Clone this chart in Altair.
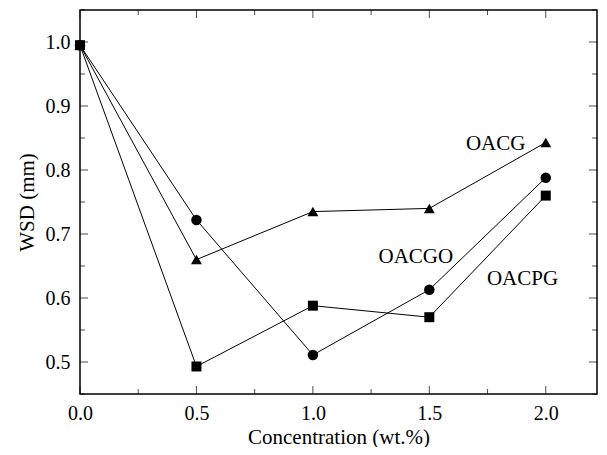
import altair as alt
import pandas as pd

conc = [0.0, 0.5, 1.0, 1.5, 2.0]
oacg = [0.995, 0.660, 0.735, 0.740, 0.843]
oacgo = [0.995, 0.722, 0.511, 0.613, 0.788]
oacpg = [0.995, 0.493, 0.588, 0.570, 0.760]

series_names = ["OACG", "OACGO", "OACPG"]
series_shapes = ["triangle-up", "circle", "square"]
series_sizes = [120, 100, 64]

label_text = ["OACG", "OACGO", "OACPG"]
label_x = [1.785, 1.442, 1.90]
label_y = [0.840, 0.664, 0.629]

x_major = [0.0, 0.5, 1.0, 1.5, 2.0]
x_minor = [0.25, 0.75, 1.25, 1.75]
y_major = [0.5, 0.6, 0.7, 0.8, 0.9, 1.0]
y_minor = [0.45, 0.55, 0.65, 0.75, 0.85, 0.95, 1.05]

W, H = 517, 384
XMAX = 2.22
FONT = "Liberation Serif"
LFS = 20
TFS = 21

rows = []
for name, vals in zip(series_names, [oacg, oacgo, oacpg]):
    for c, v in zip(conc, vals):
        rows.append({"series": name, "conc": c, "wsd": v})
df = pd.DataFrame(rows)

xs = alt.Scale(domain=[0, XMAX], nice=False, zero=False)
ys = alt.Scale(domain=[0.45, 1.05], nice=False, zero=False)

xax = alt.Axis(values=x_major, format=".1f", ticks=False, grid=False, labelFlush=False,
               labelPadding=9, titlePadding=3, labelFontSize=LFS, titleFontSize=TFS,
               labelFont=FONT, titleFont=FONT, labelColor="black", titleColor="black",
               titleFontWeight="normal", domain=False)
yax = alt.Axis(values=y_major, format=".1f", ticks=False, grid=False, labelFlush=False,
               labelPadding=10, titlePadding=8, labelFontSize=LFS, titleFontSize=TFS,
               labelFont=FONT, titleFont=FONT, labelColor="black", titleColor="black",
               titleFontWeight="normal", domain=False)

base = alt.Chart(df)

lines = base.mark_line(color="black", strokeWidth=1).encode(
    x=alt.X("conc:Q", scale=xs, axis=xax, title="Concentration (wt.%)"),
    y=alt.Y("wsd:Q", scale=ys, axis=yax, title="WSD (mm)"),
    detail="series:N",
    order="conc:Q",
)

points = base.mark_point(filled=True, opacity=1, color="black").encode(
    x=alt.X("conc:Q", scale=xs, axis=xax, title="Concentration (wt.%)"),
    y=alt.Y("wsd:Q", scale=ys, axis=yax, title="WSD (mm)"),
    shape=alt.Shape("series:N", scale=alt.Scale(domain=series_names, range=series_shapes), legend=None),
    size=alt.Size("series:N", scale=alt.Scale(domain=series_names, range=series_sizes), legend=None),
)

labels = alt.Chart(pd.DataFrame({"t": label_text, "x": label_x, "y": label_y})).mark_text(
    font=FONT, fontSize=TFS, color="black", align="center", baseline="middle"
).encode(x=alt.X("x:Q", scale=xs), y=alt.Y("y:Q", scale=ys), text="t:N")


def yticks(vals, length, at_right):
    d = pd.DataFrame({"tv": vals})
    xpos = W - length / 2 if at_right else length / 2
    return alt.Chart(d).mark_tick(color="black", thickness=1, size=length, orient="horizontal").encode(
        y=alt.Y("tv:Q", scale=ys), x=alt.value(xpos))


def xticks(vals, length, at_top):
    d = pd.DataFrame({"tv": vals})
    ypos = length / 2 if at_top else H - length / 2
    return alt.Chart(d).mark_tick(color="black", thickness=1, size=length, orient="vertical").encode(
        x=alt.X("tv:Q", scale=xs), y=alt.value(ypos))


tick_layers = [
    xticks(x_major, 8, False), xticks(x_minor, 5, False),
    xticks(x_major, 8, True), xticks(x_minor, 5, True),
    yticks(y_major, 8, False), yticks(y_minor, 5, False),
    yticks(y_major, 8, True), yticks(y_minor, 5, True),
]

frame = alt.Chart(pd.DataFrame({"a": [0]})).mark_rect(
    fill=None, stroke="black", strokeWidth=1.5
).encode(x=alt.value(0), x2=alt.value(W), y=alt.value(0), y2=alt.value(H))

chart = alt.layer(lines, points, labels, *tick_layers, frame).properties(
    width=W, height=H, background="white",
    padding={"left": 8, "top": 1, "right": 0, "bottom": 0},
).configure_view(stroke=None)

chart.save("out.html", embed_options={"renderer": "svg", "actions": False})
